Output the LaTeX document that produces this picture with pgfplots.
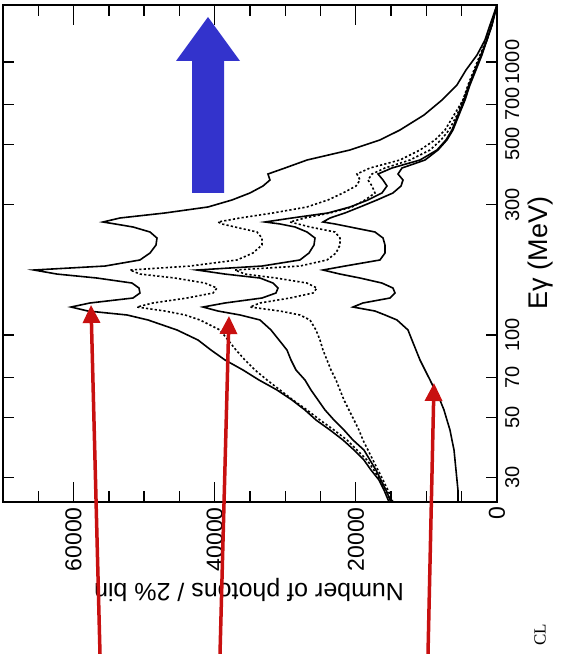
\documentclass[border=0pt]{standalone}
\usepackage{pgfplots}
\pgfplotsset{compat=1.18}
\usepackage{pgfplotstable}
\usepackage{fontspec}
\setmainfont{Liberation Sans}
\newfontfamily\clfont{Liberation Serif}
\usetikzlibrary{arrows.meta}
\definecolor{arrowred}{RGB}{200,16,16}
\definecolor{arrowblue}{RGB}{51,51,204}

% E = photon energy (MeV); A..F = number of photons / 2% bin for the five spectra
\pgfplotstableread{
E A B C D F
24.45 15300 15020 15020 14740 5530
27.05 16010 15730 15730 15450 5530
29.43 16720 16580 16440 16150 5670
32.01 17850 17430 17150 16860 5810
34.83 18850 18420 18000 17570 5950
37.91 20260 19840 18850 18280 6090
41.24 21820 21260 20410 18990 6380
44.87 23660 23100 21680 19560 6660
48.83 25650 25080 23100 20260 7090
53.13 27210 26920 24370 20970 7510
57.79 29050 28910 25360 21680 8080
62.89 31170 30750 26360 22250 8790
68.43 33730 32590 27210 22810 9490
74.44 35990 34290 28480 23520 10200
80.99 38540 35710 29190 24090 10910
88.11 40530 36980 29760 24660 11480
95.87 42370 38120 30890 25080 12050
104.3 45340 39250 32020 25650 12610
113.5 49450 42090 33580 26500 14170
118.4 52430 44210 36420 27920 15870
122.4 57960 47040 39530 30750 17290
126.6 60360 51010 41660 35000 20410
131.0 57670 48750 38540 33580 18990
136.6 51580 43930 33300 29330 15160
142.5 50590 40240 31320 26070 14450
148.6 50730 39680 31030 25510 14740
155.0 51720 41380 31740 26920 16300
161.7 56680 45630 33580 31320 19410
167.2 62350 50590 38540 35710 22250
173.0 65610 52000 42510 37130 24660
178.9 55550 43500 33300 27920 21540
188.3 50590 36840 27920 24090 16580
199.7 49170 34580 26640 22810 15870
213.6 48320 33300 25930 22250 15870
226.6 48180 33300 25790 22250 16150
238.4 49170 34010 26920 22960 17290
248.7 51580 37130 28620 26500 20830
255.1 54130 38970 30750 28200 22960
259.4 55830 39530 32870 29330 24660
268.3 53420 36420 29050 27210 23660
279.9 47040 31740 23950 23660 21540
294.4 40950 26920 20830 20550 19410
312.3 37550 23950 18280 18700 17000
331.3 35000 21820 16300 17290 14740
351.4 33160 19980 15590 17710 13600
369.6 32170 19410 16150 18280 13320
388.9 32450 19840 16860 17710 14030
409.0 30040 18000 14880 15870 13460
437.5 26920 13750 10910 12330 10200
476.1 20830 10910 8500 9490 8360
518.1 16580 8790 7230 7940 7090
563.5 13750 7370 6380 6800 6240
639.5 10340 6090 5530 5670 5390
725.9 7790 4820 4680 4820 4530
824.0 5670 3970 3970 4110 3830
934.8 4390 3120 3120 3260 2980
1060.7 2830 2270 2270 2410 2130
1204 1700 1420 1420 1560 1420
1366.5 990 710 710 850 710
1617.6 0 0 0 0 0
}\spectra

\begin{document}
\begin{tikzpicture}[x=1pt,y=1pt]
\useasboundingbox (0,0) rectangle (562,654);
\begin{axis}[
  at={(3pt,152pt)}, anchor=south west,
  scale only axis, width=494pt, height=497pt,
  xmin=0, xmax=70000, x dir=reverse,
  scaled x ticks=false,
  ymode=log, ymin=24.45, ymax=1617.6,
  xtick={0,20000,40000,60000},
  xticklabels={0,20000,40000,60000},
  minor xtick={5000,10000,15000,25000,30000,35000,45000,50000,55000,65000},
  ytick={30,50,70,100,300,500,700,1000},
  yticklabels={30,50,70,100,300,500,700,1000},
  minor ytick={30,50,70,100,300,500,700,1000},
  major y tick style={draw=none},
  yticklabel pos=right,
  xtick pos=both, ytick pos=both,
  tick align=inside,
  major tick length=20pt, minor tick length=11pt,
  every tick/.style={black, line width=1.3pt},
  axis line style={black, line width=1.6pt},
  xticklabel style={rotate=90, anchor=east, inner sep=5pt, font=\fontsize{23}{23}\selectfont},
  yticklabel style={rotate=90, anchor=north, inner sep=8pt, font=\fontsize{20}{20}\selectfont},
  solidc/.style={black, line width=1.6pt, sharp plot},
  dotc/.style={black, line width=1.6pt, sharp plot, dash pattern=on 2.2pt off 2.2pt},
]
\addplot[solidc] table[x=F, y=E]{\spectra};
\addplot[dotc]   table[x=D, y=E]{\spectra};
\addplot[solidc] table[x=C, y=E]{\spectra};
\addplot[dotc]   table[x=B, y=E]{\spectra};
\addplot[solidc] table[x=A, y=E]{\spectra};
\end{axis}
\node[rotate=180, font=\fontsize{25}{25}\selectfont] at (249,64) {Number of photons / 2\% bin};
\node[rotate=90, font=\fontsize{27}{27}\selectfont] at (541,401) {Eγ (MeV)};
\node[rotate=90, font=\clfont\fontsize{17}{17}\selectfont] at (540,19) {CL};
\draw[arrowred, line width=3.5pt, -{Triangle[length=18pt,width=17pt]}] (100,0) -- (91,349);
\draw[arrowred, line width=3.5pt, -{Triangle[length=18pt,width=17pt]}] (220,0) -- (229,338);
\draw[arrowred, line width=3.5pt, -{Triangle[length=18pt,width=17pt]}] (428,0) -- (434,271);
\fill[arrowblue] (192,461) -- (224,461) -- (224,593) -- (240,593) -- (208,637) -- (176,593) -- (192,593) -- cycle;
\end{tikzpicture}
\end{document}
